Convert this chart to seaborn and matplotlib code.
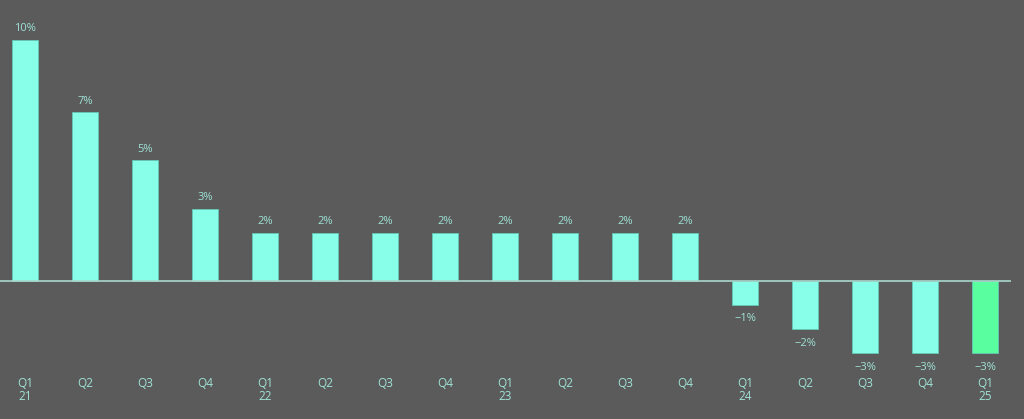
import numpy as np
import pandas as pd
import matplotlib
matplotlib.use('Agg')
import matplotlib.pyplot as plt
import seaborn as sns

quarters = ['Q1\n21', 'Q2', 'Q3', 'Q4', 'Q1\n22', 'Q2', 'Q3', 'Q4', 'Q1\n23', 'Q2', 'Q3', 'Q4',
            'Q1\n24', 'Q2', 'Q3', 'Q4', 'Q1\n25']
growth = [10, 7, 5, 3, 2, 2, 2, 2, 2, 2, 2, 2, -1, -2, -3, -3, -3]
labels = ['10%', '7%', '5%', '3%', '2%', '2%', '2%', '2%', '2%', '2%', '2%', '2%',
          '\u22121%', '\u22122%', '\u22123%', '\u22123%', '\u22123%']

bg = '#5b5b5b'
bar_col = '#88ffe9'
last_col = '#59ff9f'
txt_col = '#9fe3d6'

df = pd.DataFrame({'idx': [str(i) for i in range(len(growth))], 'val': growth})
cols = [bar_col] * (len(growth) - 1) + [last_col]

sns.set_style('white')
plt.rcParams['font.family'] = ['Open Sans', 'DejaVu Sans']

fig = plt.figure(figsize=(10.24, 4.19), dpi=100, facecolor=bg)
ax = fig.add_axes([0, 1 - 360 / 419, 1011 / 1024, 360 / 419])
ax.set_facecolor(bg)

sns.barplot(data=df, x='idx', y='val', hue='idx', palette=cols, legend=False,
            width=0.43, saturation=1, ax=ax, edgecolor='#66c9b6', linewidth=0.6)

ax.set_xlim(-25 / 60, (1011 - 25) / 60)
ax.set_ylim(-(360 - 281) / 24.1, 281 / 24.1)
ax.axhline(0, color='#a9d6cc', lw=1.2, zorder=5)

for i, (v, lab) in enumerate(zip(growth, labels)):
    if v >= 0:
        ax.annotate(lab, (i, v), xytext=(0, 4), textcoords='offset points',
                    ha='center', va='bottom', fontsize=8, color=txt_col)
    else:
        ax.annotate(lab, (i, v), xytext=(0, -6), textcoords='offset points',
                    ha='center', va='top', fontsize=8, color=txt_col)

ax.set_xticks(range(len(quarters)))
ax.set_xticklabels(quarters, fontsize=8.5, color=txt_col, linespacing=1.05)
ax.tick_params(axis='x', length=0, pad=12)
ax.set_yticks([])
ax.set_xlabel('')
ax.set_ylabel('')
for s in ax.spines.values():
    s.set_visible(False)

fig.savefig('out.png', dpi=100, facecolor=bg)
